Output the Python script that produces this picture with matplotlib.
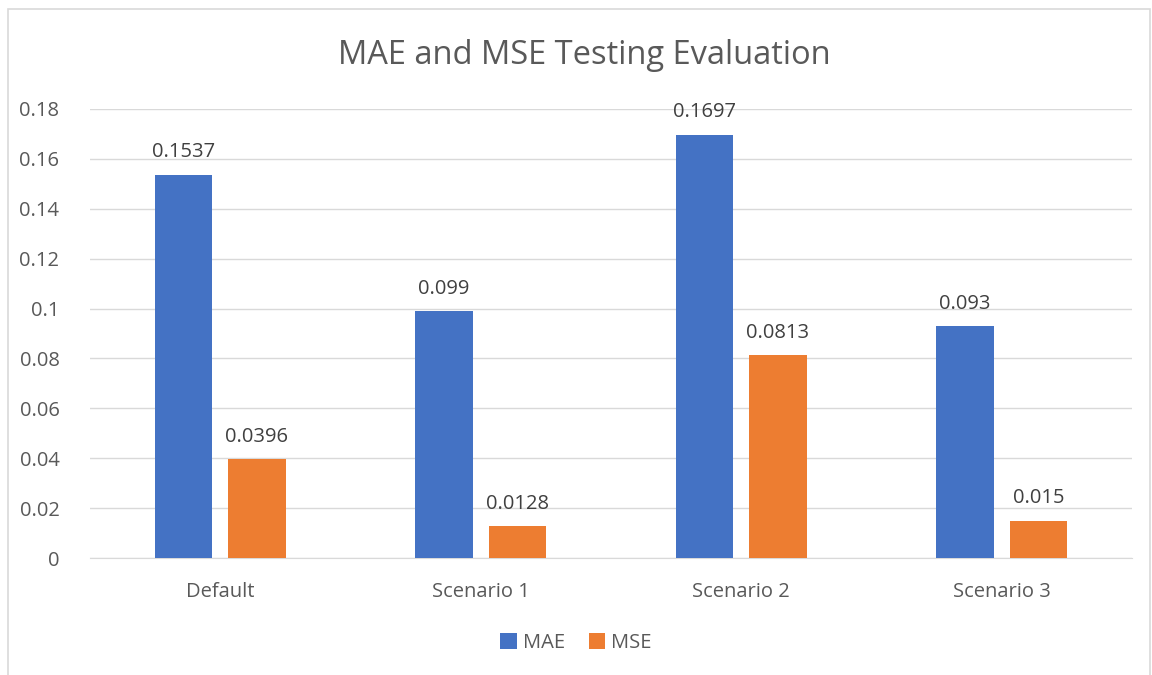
import numpy as np
from matplotlib import pyplot as plt
from matplotlib.patches import Rectangle

categories = ['Default', 'Scenario 1', 'Scenario 2', 'Scenario 3']
mae = [0.1537, 0.099, 0.1697, 0.093]
mse = [0.0396, 0.0128, 0.0813, 0.015]
mae_labels = ['0.1537', '0.099', '0.1697', '0.093']
mse_labels = ['0.0396', '0.0128', '0.0813', '0.015']

plt.rcParams['font.family'] = ['Open Sans', 'DejaVu Sans']
text_color = '#595959'

fig = plt.figure(figsize=(11.52, 6.75), dpi=100)
fig.patches.append(Rectangle((8 / 1152, -0.01), 1142 / 1152, 1 - 9 / 675 + 0.01,
                             transform=fig.transFigure, fill=False,
                             edgecolor='#d9d9d9', linewidth=1.2))
ax = fig.add_axes([90 / 1152, 1 - 558 / 675, (1132 - 90) / 1152, (558 - 109) / 675])

x = np.arange(len(categories))
w = 0.222
off = 0.141
b1 = ax.bar(x - off, mae, w, color='#4472c4', label='MAE', zorder=3)
b2 = ax.bar(x + off, mse, w, color='#ed7d31', label='MSE', zorder=3)

for bars, labels in ((b1, mae_labels), (b2, mse_labels)):
    for r, lab in zip(bars, labels):
        ax.annotate(lab, (r.get_x() + r.get_width() / 2, r.get_height()),
                    xytext=(0, 9), textcoords='offset points', ha='center',
                    va='bottom', fontsize=14.5, color='#404040')

ax.set_xlim(-0.5, 3.5)
ax.set_ylim(0, 0.18)
ax.set_yticks(np.arange(0, 0.181, 0.02))
ax.set_yticklabels(['0', '0.02', '0.04', '0.06', '0.08', '0.1', '0.12',
                    '0.14', '0.16', '0.18'])
ax.set_xticks(x)
ax.set_xticklabels(categories)
ax.tick_params(axis='both', length=0, labelsize=14.5, colors=text_color)
ax.tick_params(axis='y', pad=22)
ax.tick_params(axis='x', pad=17)
ax.grid(axis='y', color='#d9d9d9', linewidth=1, zorder=0)
for s in ('top', 'right', 'left'):
    ax.spines[s].set_visible(False)
ax.spines['bottom'].set_color('#d9d9d9')

fig.text(0.507, 1 - 55 / 675, 'MAE and MSE Testing Evaluation', ha='center',
         va='center', fontsize=23.5, color=text_color)
fig.legend(handles=[b1, b2], loc='center', bbox_to_anchor=(0.5, 1 - 643 / 675),
           ncol=2, frameon=False, fontsize=14.5, handlelength=0.8,
           handleheight=0.8, handletextpad=0.3, columnspacing=1.2,
           labelcolor=text_color)

fig.savefig('out.png', dpi=100)
